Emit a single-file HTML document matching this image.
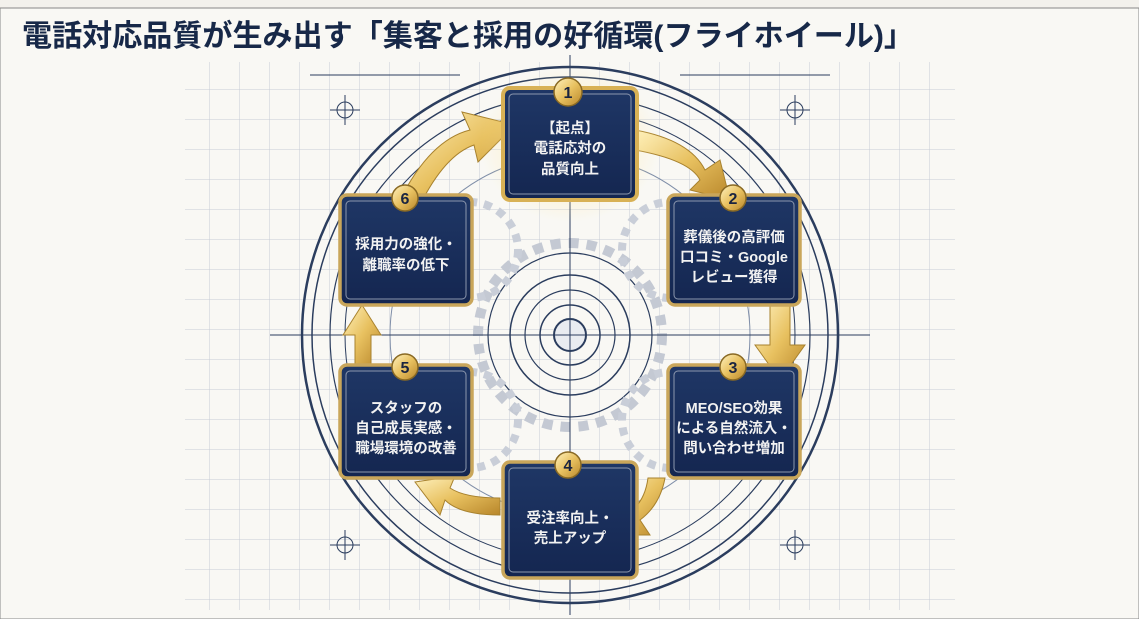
<!DOCTYPE html>
<html><head><meta charset="utf-8"><style>
html,body{margin:0;padding:0;width:1139px;height:619px;overflow:hidden;background:#f6f4ee}
svg{display:block}
.t{font-family:"Liberation Sans","Noto Sans CJK JP",sans-serif}
</style></head><body>
<svg width="1139" height="619" viewBox="0 0 1139 619" xmlns="http://www.w3.org/2000/svg">
<defs>
<pattern id="g" width="30" height="30" patternUnits="userSpaceOnUse"><path d="M30 0V30H0" fill="none" stroke="#c6ccd6" stroke-width="1"/></pattern>
<linearGradient id="gold" x1="0" y1="0" x2="1" y2="1"><stop offset="0" stop-color="#fff2c0"/><stop offset="0.5" stop-color="#e8c160"/><stop offset="1" stop-color="#b8862a"/></linearGradient>
<radialGradient id="glow"><stop offset="0" stop-color="#ffe9a0" stop-opacity="0.8"/><stop offset="1" stop-color="#ffe9a0" stop-opacity="0"/></radialGradient>
<linearGradient id="navy" x1="0" y1="0" x2="0" y2="1"><stop offset="0" stop-color="#1f3766"/><stop offset="1" stop-color="#142650"/></linearGradient>
</defs>
<rect width="1139" height="619" fill="#f3f1ec"/>
<rect x="0" y="8" width="1139" height="611" fill="#f9f8f4" stroke="#888" stroke-width="1"/>
<rect x="185" y="62" width="770" height="548" fill="url(#g)"/>
<text class="t" x="22" y="46" font-size="30" font-weight="bold" fill="#172848" textLength="892" lengthAdjust="spacingAndGlyphs">電話対応品質が生み出す「集客と採用の好循環(フライホイール)」</text>
<g fill="none" stroke="#2b3d5e">
<circle cx="570" cy="335" r="268" stroke-width="2.5"/>
<circle cx="570" cy="335" r="258" stroke-width="1.5"/>
<circle cx="570" cy="335" r="240" stroke-width="1.2"/>
<circle cx="570" cy="335" r="225" stroke-width="1"/>
<circle cx="570" cy="335" r="180" stroke-width="1" stroke="#7f8ea8"/>
<circle cx="570" cy="335" r="60" stroke-width="1.5"/>
<circle cx="570" cy="335" r="45" stroke-width="1.2"/>
<circle cx="570" cy="335" r="30" stroke-width="1.5"/>
<circle cx="570" cy="335" r="16" stroke-width="2" fill="#e9ecf1"/>
<circle cx="570" cy="335" r="92" stroke-width="10" stroke="#c4c9d3" stroke-dasharray="10 8"/>
<circle cx="570" cy="335" r="82" stroke-width="1.2"/>
<circle cx="470" cy="250" r="48" stroke-width="8" stroke="#c9ced8" stroke-dasharray="8 7"/>
<circle cx="670" cy="250" r="48" stroke-width="8" stroke="#c9ced8" stroke-dasharray="8 7"/>
<circle cx="470" cy="420" r="48" stroke-width="8" stroke="#c9ced8" stroke-dasharray="8 7"/>
<circle cx="670" cy="420" r="48" stroke-width="8" stroke="#c9ced8" stroke-dasharray="8 7"/>
<line x1="570" y1="55" x2="570" y2="615" stroke-width="1"/>
<line x1="270" y1="335" x2="870" y2="335" stroke-width="1"/>
<line x1="310" y1="75" x2="460" y2="75"/><line x1="680" y1="75" x2="830" y2="75"/>
<circle cx="345" cy="110" r="8"/><circle cx="795" cy="110" r="8"/>
<circle cx="345" cy="545" r="8"/><circle cx="795" cy="545" r="8"/>
<line x1="330" y1="110" x2="360" y2="110"/><line x1="345" y1="95" x2="345" y2="125"/>
<line x1="780" y1="110" x2="810" y2="110"/><line x1="795" y1="95" x2="795" y2="125"/>
<line x1="330" y1="545" x2="360" y2="545"/><line x1="345" y1="530" x2="345" y2="560"/>
<line x1="780" y1="545" x2="810" y2="545"/><line x1="795" y1="530" x2="795" y2="560"/>
</g>
<g fill="url(#gold)" stroke="#a8822e" stroke-width="1">
<path d="M400 200 Q430 140 470 130 L462 112 L515 125 L478 162 L474 145 Q445 155 420 205 Z"/>
<path d="M635 130 Q690 140 705 170 L720 160 L730 200 L690 190 L700 180 Q690 160 635 150 Z"/>
<path d="M770 305 L790 305 L790 345 L805 345 L780 380 L755 345 L770 345 Z"/>
<path d="M665 478 Q660 505 640 520 L650 535 L605 535 L625 500 L632 510 Q645 500 648 478 Z"/>
<path d="M500 515 Q460 515 445 500 L440 515 L415 482 L455 476 L450 488 Q465 498 500 498 Z"/>
<path d="M355 365 L355 335 L343 335 L362 305 L381 335 L371 335 L371 365 Z"/>
</g>
<g class="t" text-anchor="middle" font-weight="bold" fill="#f2f2f2" font-size="14.5">
<g>
<ellipse cx="570" cy="144" rx="90" ry="78" fill="url(#glow)"/>
<rect x="503" y="88" width="134" height="112" rx="7" fill="url(#navy)" stroke="#d8b155" stroke-width="4"/>
<rect x="509" y="94" width="122" height="100" rx="4" fill="none" stroke="#8c97ad" stroke-width="1"/>
<circle cx="568" cy="92" r="14" fill="url(#gold)" stroke="#8a6a24" stroke-width="1.5"/>
<text x="568" y="98" fill="#1a2440" font-size="16">1</text>
<text x="570" y="133">【起点】</text><text x="570" y="153">電話応対の</text><text x="570" y="174">品質向上</text>
</g>
<g>
<rect x="668" y="195" width="132" height="110" rx="7" fill="url(#navy)" stroke="#c9a65a" stroke-width="3.5"/>
<rect x="674" y="201" width="120" height="98" rx="4" fill="none" stroke="#8c97ad"/>
<circle cx="733" cy="198" r="13" fill="url(#gold)" stroke="#8a6a24" stroke-width="1.5"/>
<text x="733" y="204" fill="#1a2440" font-size="16">2</text>
<text x="734" y="242">葬儀後の高評価</text><text x="734" y="262">口コミ・Google</text><text x="734" y="282">レビュー獲得</text>
</g>
<g>
<rect x="668" y="365" width="132" height="113" rx="7" fill="url(#navy)" stroke="#c9a65a" stroke-width="3.5"/>
<rect x="674" y="371" width="120" height="101" rx="4" fill="none" stroke="#8c97ad"/>
<circle cx="733" cy="367" r="13" fill="url(#gold)" stroke="#8a6a24" stroke-width="1.5"/>
<text x="733" y="373" fill="#1a2440" font-size="16">3</text>
<text x="734" y="413">MEO/SEO効果</text><text x="734" y="433">による自然流入・</text><text x="734" y="453">問い合わせ増加</text>
</g>
<g>
<rect x="503" y="462" width="134" height="116" rx="7" fill="url(#navy)" stroke="#c9a65a" stroke-width="3.5"/>
<rect x="509" y="468" width="122" height="104" rx="4" fill="none" stroke="#8c97ad"/>
<circle cx="568" cy="465" r="13" fill="url(#gold)" stroke="#8a6a24" stroke-width="1.5"/>
<text x="568" y="471" fill="#1a2440" font-size="16">4</text>
<text x="570" y="523">受注率向上・</text><text x="570" y="543">売上アップ</text>
</g>
<g>
<rect x="340" y="365" width="132" height="113" rx="7" fill="url(#navy)" stroke="#c9a65a" stroke-width="3.5"/>
<rect x="346" y="371" width="120" height="101" rx="4" fill="none" stroke="#8c97ad"/>
<circle cx="405" cy="367" r="13" fill="url(#gold)" stroke="#8a6a24" stroke-width="1.5"/>
<text x="405" y="373" fill="#1a2440" font-size="16">5</text>
<text x="406" y="413">スタッフの</text><text x="406" y="433">自己成長実感・</text><text x="406" y="453">職場環境の改善</text>
</g>
<g>
<rect x="340" y="195" width="132" height="110" rx="7" fill="url(#navy)" stroke="#c9a65a" stroke-width="3.5"/>
<rect x="346" y="201" width="120" height="98" rx="4" fill="none" stroke="#8c97ad"/>
<circle cx="405" cy="198" r="13" fill="url(#gold)" stroke="#8a6a24" stroke-width="1.5"/>
<text x="405" y="204" fill="#1a2440" font-size="16">6</text>
<text x="406" y="249">採用力の強化・</text><text x="406" y="270">離職率の低下</text>
</g>
</g>
</svg>
</body></html>
